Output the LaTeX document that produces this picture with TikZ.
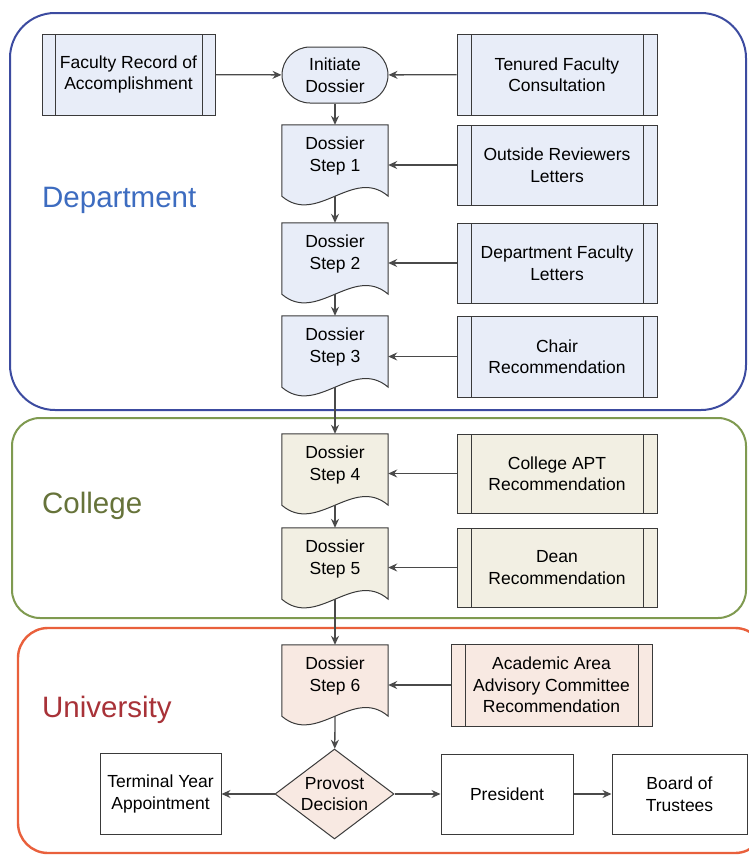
\documentclass[tikz,border=0pt]{standalone}
\usepackage{fontspec}
\setmainfont{Liberation Sans}
\usetikzlibrary{arrows.meta,shapes.geometric,calc}
\pgfdeclarelayer{background}
\pgfsetlayers{background,main}

\definecolor{deptline}{HTML}{3C4BA0}
\definecolor{deptfill}{HTML}{E8EDF8}
\definecolor{deptlabel}{HTML}{3D6CC0}
\definecolor{colline}{HTML}{7F9A50}
\definecolor{colfill}{HTML}{F2EFE3}
\definecolor{collabel}{HTML}{66733A}
\definecolor{uniline}{HTML}{E9603C}
\definecolor{unifill}{HTML}{F8E9E2}
\definecolor{unilabel}{HTML}{A83238}
\definecolor{linegray}{HTML}{4A4A4A}
\definecolor{boxgray}{HTML}{3A3A3A}

\newcommand\boxfont{\fontsize{17.5}{21.5}\selectfont}
\newcommand\lanefont{\fontsize{29.5}{34}\selectfont}

\tikzset{
  conn/.style={draw=linegray, line width=1.3pt,
    -{Stealth[length=9pt,width=8pt,inset=3pt]}},
  box/.style={draw=boxgray, line width=1pt, align=center,
    inner sep=0pt, font=\boxfont},
  procbox/.style={box, path picture={
    \draw[boxgray, line width=1pt]
      ([xshift=#1]path picture bounding box.north west) --
      ([xshift=#1]path picture bounding box.south west)
      ([xshift=-#1]path picture bounding box.north east) --
      ([xshift=-#1]path picture bounding box.south east);}},
  procbox/.default=14pt,
  docnode/.style={align=center, inner sep=0pt, minimum width=106pt,
    minimum height=62pt, font=\boxfont},
  lanelabel/.style={anchor=west, inner sep=0pt, font=\lanefont},
  lane/.style={line width=2pt},
}

% document symbol (flat top, wavy bottom) behind a docnode
\newcommand\docshape[2]{%
  \begin{pgfonlayer}{background}
    \filldraw[fill=#2, draw=boxgray, line width=1pt]
      (#1.north west) -- ([yshift=-9pt]#1.south west)
      .. controls +(35,30) and +(-35,-30) .. ([yshift=-9pt]#1.south east)
      -- (#1.north east) -- cycle;
  \end{pgfonlayer}%
  \coordinate (#1-out) at ([yshift=-9pt]#1.south);%
}

\begin{document}
\begin{tikzpicture}[x=1pt, y=-1pt]
\useasboundingbox (0,0) rectangle (748,855);

% lanes
\begin{pgfonlayer}{background}
  \fill[white] (0,0) rectangle (748,855);
  \draw[lane, draw=deptline, rounded corners=45pt] (10,13) rectangle (746,410);
  \draw[lane, draw=colline, rounded corners=28pt] (12,418) rectangle (746,618);
  \draw[lane, draw=uniline, line width=2.4pt, rounded corners=30pt] (18,628) rectangle (765,853);
\end{pgfonlayer}

\node[lanelabel, text=deptlabel] (deptname) at (42,200) {Department};
\node[lanelabel, text=collabel] (colname) at (42,506) {College};
\node[lanelabel, text=unilabel] (uniname) at (42,710) {University};

% department
\node[procbox=13pt, fill=deptfill, minimum width=173pt, minimum height=81pt]
  (record) at (128.5,74.5) {Faculty Record of\\Accomplishment};
\node[box, fill=deptfill, rounded corners=28pt, minimum width=106pt,
  minimum height=56pt] (init) at (335,75) {Initiate\\Dossier};
\node[procbox, fill=deptfill, minimum width=200pt, minimum height=81pt]
  (tenured) at (557,74.5) {Tenured Faculty\\Consultation};

\node[docnode] (s1) at (335,156) {Dossier\\Step 1};
\docshape{s1}{deptfill}
\node[procbox, fill=deptfill, minimum width=200pt, minimum height=80pt]
  (outside) at (557,165) {Outside Reviewers\\Letters};

\node[docnode] (s2) at (335,254) {Dossier\\Step 2};
\docshape{s2}{deptfill}
\node[procbox, fill=deptfill, minimum width=200pt, minimum height=80pt]
  (deptfac) at (557,263) {Department Faculty\\Letters};

\node[docnode] (s3) at (335,347) {Dossier\\Step 3};
\docshape{s3}{deptfill}
\node[procbox, fill=deptfill, minimum width=200pt, minimum height=81pt]
  (chair) at (557,356.5) {Chair\\Recommendation};

% college
\node[docnode] (s4) at (335,465) {Dossier\\Step 4};
\docshape{s4}{colfill}
\node[procbox, fill=colfill, minimum width=200pt, minimum height=79pt]
  (apt) at (557,473.5) {College APT\\Recommendation};

\node[docnode] (s5) at (335,559) {Dossier\\Step 5};
\docshape{s5}{colfill}
\node[procbox, fill=colfill, minimum width=200pt, minimum height=79pt]
  (dean) at (557,567.5) {Dean\\Recommendation};

% university
\node[docnode] (s6) at (335,676) {Dossier\\Step 6};
\docshape{s6}{unifill}
\node[procbox, fill=unifill, minimum width=201pt, minimum height=82pt]
  (aaac) at (551.5,685) {Academic Area\\Advisory Committee\\Recommendation};

\node[box, diamond, aspect=1.32, fill=unifill, minimum width=119pt,
  minimum height=90pt] (provost) at (334.5,794) {Provost\\Decision};
\node[box, minimum width=121pt, minimum height=81pt]
  (terminal) at (160.5,794) {Terminal Year\\Appointment};
\node[box, minimum width=132pt, minimum height=80pt]
  (president) at (507,794) {President};
\node[box, minimum width=135pt, minimum height=80pt]
  (board) at (679.5,794) {Board of\\Trustees};

% connectors
\draw[conn] (record) -- (init);
\draw[conn] (tenured) -- (init);
\draw[conn] (init) -- (s1);
\draw[conn] (outside.west) -- (outside.west -| s1.east);
\draw[conn] (s1-out) -- (s2);
\draw[conn] (deptfac.west) -- (deptfac.west -| s2.east);
\draw[conn] (s2-out) -- (s3);
\draw[conn] (chair.west) -- (chair.west -| s3.east);
\draw[conn] (s3-out) -- (s4);
\draw[conn] (apt.west) -- (apt.west -| s4.east);
\draw[conn] (s4-out) -- (s5);
\draw[conn] (dean.west) -- (dean.west -| s5.east);
\draw[conn] (s5-out) -- (s6);
\draw[conn] (aaac.west) -- (aaac.west -| s6.east);
\draw[conn] (s6-out) -- (provost);
\draw[conn] (provost) -- (terminal);
\draw[conn] (provost) -- (president);
\draw[conn] (president) -- (board);
\end{tikzpicture}
\end{document}
